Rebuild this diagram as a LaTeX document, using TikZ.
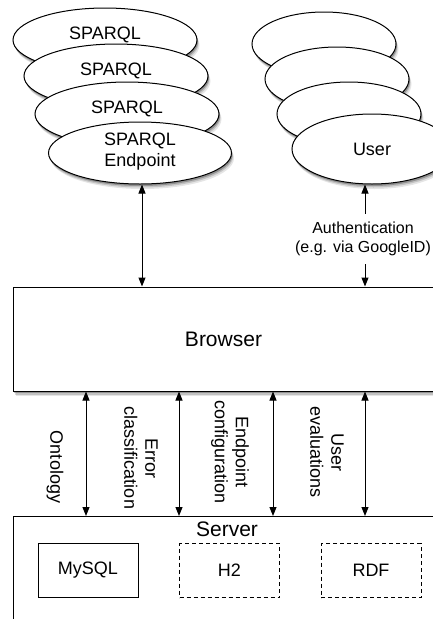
\documentclass[tikz,border=0pt]{standalone}
\usepackage{fontspec}
\setmainfont{Liberation Sans}
\usetikzlibrary{shapes.geometric,shadows,arrows.meta}
\begin{document}
\begin{tikzpicture}[x=1pt,y=-1pt,
  every node/.style={font=\fontsize{18}{21}\selectfont},
  shad/.style={
    drop shadow={opacity=0.10,shadow xshift=2.5pt,shadow yshift=-5pt,fill=black},
    drop shadow={opacity=0.15,shadow xshift=1.5pt,shadow yshift=-3.5pt,fill=black},
    drop shadow={opacity=0.25,shadow xshift=1pt,shadow yshift=-2pt,fill=black}},
  ell/.style={ellipse,draw,fill=white,line width=1pt,inner sep=0pt,shad},
  sparql/.style={ell,minimum width=184pt,minimum height=64pt,text depth=14pt},
  usr/.style={ell,minimum width=144pt,minimum height=64pt},
  bigbox/.style={rectangle,draw,fill=white,line width=1pt,shad,inner sep=0pt},
  db/.style={rectangle,draw,line width=1pt,minimum width=100pt,minimum height=54pt,inner sep=0pt},
  dashdb/.style={db,dash pattern=on 4pt off 3pt},
  tip/.tip={Triangle[length=9pt,width=7pt]},
  conn/.style={line width=1pt,tip-tip},
  arr/.style={line width=1pt,-tip},
  vlabel/.style={rotate=-90,align=center,inner sep=0pt},
  bigfont/.style={font=\fontsize{21}{25}\selectfont}
]
\path[use as bounding box,clip] (0,0) rectangle (433,619);
\fill[white] (0,0) rectangle (433,619);

% SPARQL stack
\node[sparql] (s1) at (105,40) {SPARQL};
\node[sparql] (s2) at (116,76) {SPARQL};
\node[sparql] (s3) at (127,114) {SPARQL};
\node[sparql,minimum width=183pt,minimum height=62pt,align=center,text depth=6pt] (s4) at (140,153) {SPARQL\\Endpoint};

% User stack
\node[usr] (u1) at (324,44) {};
\node[usr] (u2) at (337,79) {};
\node[usr] (u3) at (349,114) {};
\node[usr,minimum width=160pt,minimum height=70pt] (u4) at (372,149) {User};

% Browser
\node[bigbox,bigfont,minimum width=421pt,minimum height=104pt] (browser) at (223.5,339) {Browser};

% Server
\node[bigbox,minimum width=421pt,minimum height=130pt,anchor=north west] (server) at (13,516) {};
\node[bigfont,inner sep=0pt] (srvlbl) at (227,529) {Server};
\node[db] (mysql) at (88,570.5) {MySQL};
\node[dashdb] (h2) at (229.5,570.5) {H2};
\node[dashdb] (rdf) at (371,570.5) {RDF};

% upper connectors
\coordinate (xa) at (142,0);
\coordinate (xb) at (365,0);
\draw[conn] (s4.south -| xa) -- (browser.north -| xa);
\node[font=\fontsize{16}{19}\selectfont,align=center,inner xsep=0pt,inner ysep=8pt] (auth) at (363,239) {Authentication\\(e.g. via GoogleID)};
\draw[arr] (auth.north -| xb) -- (u4.south -| xb);
\draw[arr] (auth.south -| xb) -- (browser.north -| xb);

% lower connectors
\coordinate (c1) at (86,0);
\coordinate (c2) at (179,0);
\coordinate (c3) at (273,0);
\coordinate (c4) at (365,0);
\draw[conn] (browser.south -| c1) -- (server.north -| c1);
\draw[conn] (browser.south -| c2) -- (server.north -| c2);
\draw[conn] (browser.south -| c3) -- (server.north -| c3);
\draw[conn] (browser.south -| c4) -- (server.north -| c4);

\node[vlabel] (lo) at (55,467) {Ontology};
\node[vlabel] (le) at (141,458) {Error\\classification};
\node[vlabel] (lc) at (230,452) {Endpoint\\configuration};
\node[vlabel] (lu) at (327,452) {User\\evaluations};
\end{tikzpicture}
\end{document}
